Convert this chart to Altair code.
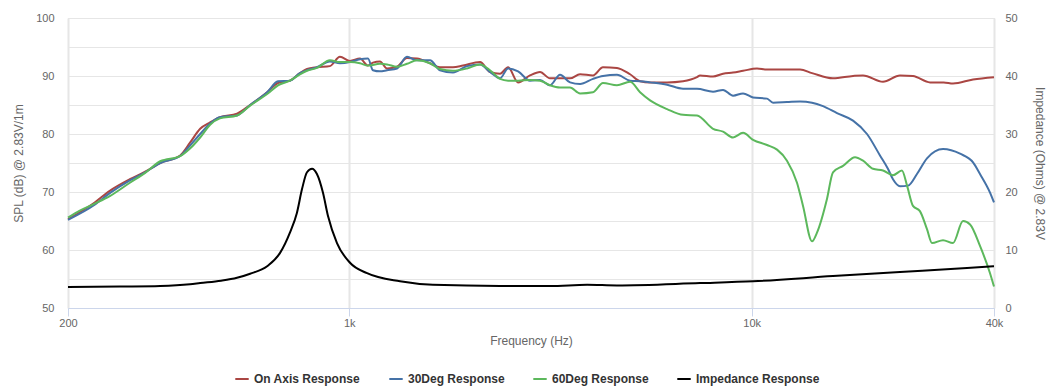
import altair as alt
import pandas as pd

# ---- data ----
series_names = ["On Axis Response", "30Deg Response", "60Deg Response", "Impedance Response"]
series_colors = ["#aa4643", "#4572a7", "#5cb85c", "#000000"]

on_axis_freq = [200, 233, 254, 285, 311, 339, 380, 402, 426, 451, 477, 526, 567, 625, 665, 712, 754, 785,
                831, 895, 948, 1004, 1063, 1113, 1145, 1192, 1241, 1314, 1391, 1473, 1587, 1680, 1810, 1917,
                2113, 2237, 2369, 2481, 2627, 2812, 2978, 3153, 3339, 3536, 3745, 4032, 4270, 4626, 4985,
                5279, 5590, 6161, 6752, 7312, 7440, 8015, 8487, 8988, 9517, 10308, 10916, 12236, 13184,
                14120, 15920, 17854, 18904, 21194, 23360, 25160, 27740, 30000, 31640, 35480, 40000]
on_axis_spl = [65.3, 68.2, 70.2, 72.2, 73.5, 75.0, 76.3, 78.5, 80.9, 82.0, 82.9, 83.5, 85.0, 87.2, 88.8, 89.2,
               90.5, 91.2, 91.5, 91.7, 93.3, 92.6, 93.0, 91.8, 92.3, 92.5, 91.3, 91.6, 93.1, 93.0, 92.2, 91.5,
               91.5, 91.8, 92.4, 90.7, 90.4, 91.5, 88.9, 90.1, 90.7, 89.6, 89.6, 89.6, 90.3, 90.1, 91.5, 91.4,
               90.3, 89.1, 88.9, 88.9, 89.1, 89.8, 90.1, 89.9, 90.4, 90.6, 90.9, 91.3, 91.1, 91.1, 91.1, 90.5,
               89.6, 90.0, 90.1, 89.0, 90.1, 90.0, 88.9, 88.9, 88.7, 89.4, 89.8]

deg30_freq = [200, 233, 254, 285, 311, 339, 380, 402, 426, 451, 477, 526, 567, 625, 665, 712, 754, 785, 831,
              895, 948, 1004, 1063, 1113, 1145, 1192, 1241, 1314, 1391, 1473, 1587, 1680, 1810, 1961, 2113,
              2237, 2369, 2481, 2627, 2812, 2978, 3153, 3339, 3536, 3745, 4032, 4270, 4626, 4985, 5279, 5590,
              6161, 6752, 7312, 8015, 8487, 8988, 9517, 10076, 10916, 11298, 12236, 13184, 14120, 15036,
              16290, 17854, 19340, 20832, 21800, 22440, 23360, 24460, 25740, 27260, 29880, 32940, 35480,
              36920, 39100, 40000]
deg30_spl = [65.2, 67.8, 69.8, 72.0, 73.4, 75.0, 76.2, 78.0, 80.0, 81.8, 82.9, 83.2, 85.0, 87.2, 89.1, 89.2,
             90.5, 91.0, 91.5, 92.5, 92.2, 92.4, 92.9, 93.0, 91.0, 90.8, 91.0, 91.3, 93.3, 92.7, 92.7, 91.0,
             90.6, 91.7, 92.0, 90.7, 89.6, 91.3, 90.8, 89.2, 89.3, 88.4, 90.2, 88.9, 88.6, 89.5, 90.0, 90.2,
             89.2, 89.1, 88.9, 88.5, 87.8, 87.8, 87.3, 87.6, 86.6, 87.0, 86.3, 86.1, 85.4, 85.5, 85.6, 85.4,
             84.8, 83.6, 82.3, 80.0, 76.3, 74.0, 72.2, 71.0, 71.1, 73.1, 75.8, 77.4, 76.6, 75.1, 73.1, 69.9,
             68.2]

deg60_freq = [200, 214, 233, 254, 285, 311, 339, 380, 402, 426, 451, 477, 526, 567, 625, 665, 712, 754, 785,
              831, 895, 948, 1004, 1063, 1113, 1192, 1241, 1314, 1391, 1473, 1587, 1680, 1810, 1961, 2113,
              2237, 2369, 2481, 2627, 2812, 2978, 3153, 3339, 3536, 3745, 4032, 4270, 4626, 4985, 5279, 5590,
              6161, 6752, 7312, 8015, 8487, 8988, 9517, 10076, 10916, 11560, 12236, 12958, 13412, 14120,
              14528, 15382, 15920, 16860, 18058, 18904, 20014, 21194, 22440, 23620, 24320, 25160, 26180,
              27260, 28060, 29880, 31640, 33500, 34880, 36920, 39100, 40000]
deg60_spl = [65.6, 66.8, 68.0, 69.3, 71.6, 73.3, 75.3, 76.2, 77.5, 79.4, 81.6, 82.7, 83.2, 84.9, 86.9, 88.4,
             89.2, 90.3, 90.9, 91.4, 92.7, 92.4, 92.4, 92.2, 91.8, 92.1, 92.0, 91.6, 92.1, 92.7, 92.2, 91.2,
             90.9, 91.3, 92.0, 91.0, 89.5, 89.2, 89.2, 89.3, 89.2, 88.4, 88.0, 88.0, 87.0, 87.2, 88.8, 88.4,
             89.0, 87.2, 85.8, 84.3, 83.3, 83.2, 80.9, 80.4, 79.4, 80.2, 79.0, 78.1, 77.3, 75.4, 71.6, 67.6,
             61.5, 63.0, 68.8, 73.4, 74.5, 76.0, 75.4, 74.0, 73.7, 72.9, 73.7, 71.1, 67.6, 66.7, 63.6, 61.2,
             61.7, 61.2, 65.0, 64.4, 60.7, 56.0, 53.7]

imp_freq = [200, 269, 339, 402, 426, 480, 526, 567, 625, 673, 712, 741, 763, 785, 808, 831, 860, 885, 932, 1004,
            1107, 1337, 1614, 2369, 3153, 3900, 4626, 7440, 10076, 15920, 23360, 34280, 40000]
imp_ohms = [3.6, 3.7, 3.8, 4.1, 4.3, 4.7, 5.2, 5.9, 7.2, 9.5, 13.0, 16.4, 20.5, 23.4, 24.0, 23.1, 19.9, 15.9,
            11.2, 7.8, 6.0, 4.6, 4.0, 3.8, 3.8, 4.0, 3.9, 4.3, 4.6, 5.5, 6.2, 6.9, 7.2]

x_ticks = [200, 1000, 10000, 40000]
spl_ticks = [50, 55, 60, 65, 70, 75, 80, 85, 90, 95, 100]
imp_ticks = [0, 10, 20, 30, 40, 50]

# ---- build tables ----
spl_rows = []
for name, fr, vals in [(series_names[0], on_axis_freq, on_axis_spl),
                       (series_names[1], deg30_freq, deg30_spl),
                       (series_names[2], deg60_freq, deg60_spl)]:
    for f, v in zip(fr, vals):
        spl_rows.append({"series": name, "freq": f, "value": v})
spl_df = pd.DataFrame(spl_rows)
imp_df = pd.DataFrame({"series": series_names[3], "freq": imp_freq, "value": imp_ohms})

FONT = "Liberation Sans"
LABEL_COLOR = "#666666"

x_enc = alt.X(
    "freq:Q",
    scale=alt.Scale(type="log", domain=[200, 40000], nice=False),
    axis=alt.Axis(
        values=x_ticks,
        labelExpr="datum.value >= 1000 ? (datum.value / 1000) + 'k' : datum.label",
        labelFlush=False,
        title="Frequency (Hz)",
        grid=True, gridColor="#e6e6e6", gridWidth=2,
        domainColor="#ccd6eb", tickColor="#ccd6eb", tickSize=8,
        labelColor=LABEL_COLOR, labelFontSize=11, labelFont=FONT, labelPadding=1,
        titleColor=LABEL_COLOR, titleFontSize=12, titleFontWeight="normal", titleFont=FONT,
        titlePadding=7,
    ),
)

color_enc = alt.Color(
    "series:N",
    scale=alt.Scale(domain=series_names, range=series_colors),
    legend=alt.Legend(
        orient="none", legendX=166, legendY=353, direction="horizontal", columns=4,
        title=None, symbolType="stroke", symbolStrokeWidth=2, symbolSize=180,
        labelFont=FONT, labelFontSize=12, labelFontWeight="bold", labelColor="#333333",
        columnPadding=24, labelLimit=300,
    ),
    sort=series_names,
)

spl_layer = alt.Chart(spl_df).mark_line(strokeWidth=2, interpolate="monotone").encode(
    x=x_enc,
    y=alt.Y(
        "value:Q",
        scale=alt.Scale(domain=[50, 100], nice=False),
        axis=alt.Axis(
            orient="left", values=spl_ticks,
            labelExpr="datum.value % 10 == 0 ? datum.label : ''",
            title="SPL (dB) @ 2.83V/1m",
            grid=True, gridColor="#e6e6e6", gridWidth=1,
            domain=False, ticks=False,
            labelColor=LABEL_COLOR, labelFontSize=11, labelFont=FONT, labelPadding=14,
            titleColor=LABEL_COLOR, titleFontSize=12, titleFontWeight="normal", titleFont=FONT,
            titlePadding=10,
        ),
    ),
    color=color_enc,
    order=alt.Order("freq:Q"),
)

imp_layer = alt.Chart(imp_df).mark_line(strokeWidth=2, interpolate="monotone").encode(
    x=x_enc,
    y=alt.Y(
        "value:Q",
        scale=alt.Scale(domain=[0, 50], nice=False),
        axis=alt.Axis(
            orient="right", values=imp_ticks,
            title="Impedance (Ohms) @ 2.83V",
            grid=False, domain=False, ticks=False,
            labelColor=LABEL_COLOR, labelFontSize=11, labelFont=FONT, labelPadding=11,
            titleColor=LABEL_COLOR, titleFontSize=12, titleFontWeight="normal", titleFont=FONT,
            titlePadding=15,
        ),
    ),
    color=color_enc,
    order=alt.Order("freq:Q"),
)

chart = alt.layer(spl_layer, imp_layer).resolve_scale(y="independent").properties(
    width=926,
    height=290,
    autosize=alt.AutoSizeParams(type="none"),
    padding={"left": 60, "top": 10, "right": 60, "bottom": 82},
).configure_view(stroke=None).configure(background="white")

chart.save("out.html", embed_options={"renderer": "svg", "actions": False})
